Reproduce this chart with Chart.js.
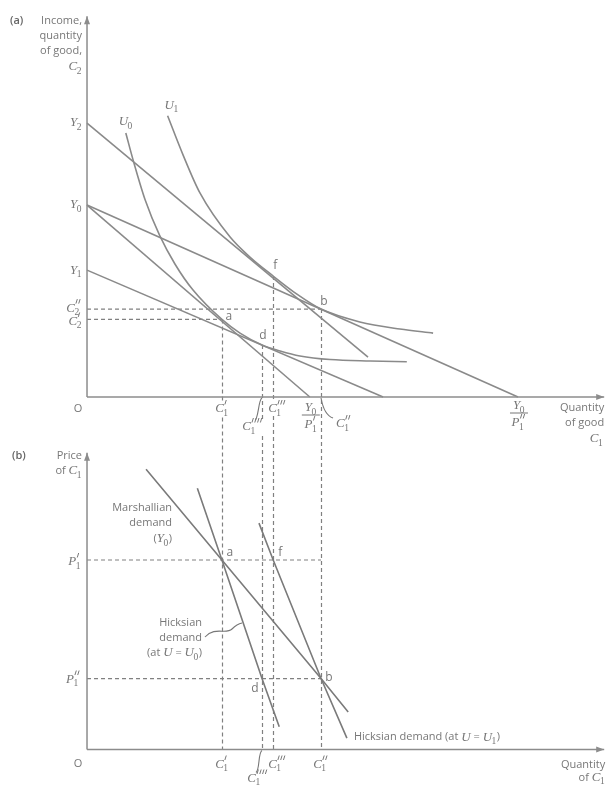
<!DOCTYPE html>
<html>
<head>
<meta charset="utf-8">
<script src="https://cdn.jsdelivr.net/npm/chart.js@4.4.0/dist/chart.umd.min.js"></script>
<style>
    html, body { margin: 0; padding: 0; background: #fff; }
    #wrap { position: relative; width: 606px; height: 785px; }
</style>
</head>
<body>
<div id="wrap"><canvas id="diagram"></canvas></div>
<script>
// ---- panel (a): quantities of C1 (x) and C2 / income (y) ----
const Y2 = 142.7, Y0 = 100, Y1 = 66.1;
const C2p = 40.4, C2pp = 45.8;                 // C2', C2''
const C1p = 31.3, C1pppp = 40.6, C1ppp = 43.2, C1pp = 54.3; // C1', C1'''', C1''', C1''
const Y0overP1p = 51.7, Y0overP1pp = 100;

const budgetY2X = [0, 65.2],        budgetY2Y = [Y2, 20.8];
const budgetY0pX = [0, Y0overP1p],  budgetY0pY = [Y0, 0];
const budgetY0ppX = [0, Y0overP1pp], budgetY0ppY = [Y0, 0];
const budgetY1X = [0, 68.7],        budgetY1Y = [Y1, 0];

const u0X = [9.0, 10.7, 13.5, 16.9, 20.4, 24.6, 31.3, 35.5, 40.6, 44.8, 49.4, 56.4, 65.7, 74.2];
const u0Y = [137.5, 123.4, 102.6, 83.9, 69.3, 55.7, 40.4, 33.3, 27.1, 24.0, 21.4, 19.5, 18.75, 18.4];
const u1X = [18.7, 22.3, 26.2, 33.2, 37.8, 43.2, 48.7, 54.3, 63.3, 72.6, 80.3];
const u1Y = [146.5, 126, 106.3, 83.3, 72.9, 63.0, 53.6, 45.8, 39.1, 35.4, 33.3];

// points a, d, f, b in panel (a)
const pointNames = ["a", "d", "f", "b"];
const pointAX = [C1p, C1pppp, C1ppp, C1pp];
const pointAY = [C2p, 27.1, 63.0, C2pp];

// ---- panel (b): price of C1 ----
const P1p = 2.67, P1pp = 1.0;
const marshX = [13.7, 31.3, 54.3, 60.6],  marshY = [3.95, P1p, P1pp, 0.53];
const hicks0X = [25.6, 31.3, 40.6, 44.6], hicks0Y = [3.68, P1p, P1pp, 0.32];
const hicks1X = [39.9, 43.2, 54.3, 60.3], hicks1Y = [3.19, P1p, P1pp, 0.16];
const pointBX = [C1p, C1pppp, C1ppp, C1pp];
const pointBY = [P1p, P1pp, P1p, P1pp];

const axisTopA = 198.4, axisTopB = 4.18, axisRight = 120;

const LINE = "#8a8a8a";
const LINE_B = "#7a7a7a";
const DASH = "#808080";
const TEXT = "#777";
const SANS = '"Open Sans", "Liberation Sans", sans-serif';
const SERIF = '"Liberation Serif", "DejaVu Serif", serif';
const FONT_TXT = `11px ${SANS}`;
const FONT_MATH = `italic 13px ${SERIF}`;
const FONT_SUB = `9.5px ${SERIF}`;

const pts = (xs, ys) => xs.map((x, i) => ({ x: x, y: ys[i] }));

function lineSet(xs, ys, axis, color, extra) {
    return Object.assign({
        data: pts(xs, ys),
        yAxisID: axis,
        showLine: true,
        borderColor: color,
        borderWidth: 1.6,
        pointRadius: 0
    }, extra || {});
}

// text helpers: plain strings are sans, objects {b, sub, p} are maths symbols
function partWidth(ctx, p) {
    if (typeof p === "string") { ctx.font = FONT_TXT; return ctx.measureText(p).width; }
    ctx.font = FONT_MATH;
    const wb = ctx.measureText(p.b).width;
    ctx.font = FONT_SUB;
    const ws = p.sub ? ctx.measureText(p.sub).width : 0;
    const wp = p.p ? p.p * 2.8 + 1.5 : 0;
    return wb + Math.max(ws, wp);
}

function drawPart(ctx, p, x, y) {
    if (typeof p === "string") { ctx.font = FONT_TXT; ctx.fillText(p, x, y); return; }
    ctx.font = FONT_MATH;
    ctx.fillText(p.b, x, y);
    const wb = ctx.measureText(p.b).width;
    ctx.font = FONT_SUB;
    if (p.sub) ctx.fillText(p.sub, x + wb - 0.5, y + 4);
    // primes as small slanted strokes
    ctx.strokeStyle = TEXT;
    ctx.lineWidth = 1;
    ctx.setLineDash([]);
    for (let i = 0; i < (p.p || 0); i++) {
        const px = x + wb + i * 2.8;
        ctx.beginPath();
        ctx.moveTo(px + 2.4, y - 9);
        ctx.lineTo(px + 1.0, y - 4.5);
        ctx.stroke();
    }
}

function rich(ctx, parts, x, y, align, clear) {
    if (!Array.isArray(parts)) parts = [parts];
    const ws = parts.map(p => partWidth(ctx, p));
    const total = ws.reduce((a, b) => a + b, 0);
    let cx = align === "right" ? x - total : align === "center" ? x - total / 2 : x;
    if (clear) {
        ctx.fillStyle = "#fff";
        ctx.fillRect(cx - 1, y - 7, total + 2, 14);
    }
    ctx.fillStyle = TEXT;
    ctx.textAlign = "left";
    ctx.textBaseline = "middle";
    parts.forEach((p, i) => { drawPart(ctx, p, cx, y); cx += ws[i]; });
}

function fraction(ctx, num, den, x, y) {
    rich(ctx, num, x, y, "center", true);
    rich(ctx, den, x, y + 17, "center", true);
    ctx.strokeStyle = TEXT;
    ctx.lineWidth = 1;
    ctx.setLineDash([]);
    ctx.beginPath();
    ctx.moveTo(x - 9, y + 7);
    ctx.lineTo(x + 9, y + 7);
    ctx.stroke();
}

function arrowAxis(ctx, x0, y0, x1, y1) {
    ctx.strokeStyle = "#8c8c8c";
    ctx.fillStyle = "#8c8c8c";
    ctx.lineWidth = 1.5;
    ctx.setLineDash([]);
    ctx.beginPath();
    ctx.moveTo(x0, y0);
    ctx.lineTo(x1, y1);
    ctx.stroke();
    const a = Math.atan2(y1 - y0, x1 - x0);
    ctx.beginPath();
    ctx.moveTo(x1, y1);
    ctx.lineTo(x1 - 8 * Math.cos(a) + 3 * Math.sin(a), y1 - 8 * Math.sin(a) - 3 * Math.cos(a));
    ctx.lineTo(x1 - 8 * Math.cos(a) - 3 * Math.sin(a), y1 - 8 * Math.sin(a) + 3 * Math.cos(a));
    ctx.closePath();
    ctx.fill();
}

function curl(ctx, pathFn) {
    ctx.strokeStyle = TEXT;
    ctx.lineWidth = 1.1;
    ctx.setLineDash([]);
    ctx.beginPath();
    pathFn();
    ctx.stroke();
}

const diagramPlugin = {
    id: "diagram",
    beforeDatasetsDraw(chart) {
        const ctx = chart.ctx, sx = chart.scales.x, sa = chart.scales.ya, sb = chart.scales.yb;
        ctx.save();
        ctx.strokeStyle = DASH;
        ctx.lineWidth = 1.2;
        ctx.setLineDash([4, 3]);
        pointAX.forEach((v, i) => {
            const px = Math.round(sx.getPixelForValue(v)) + 0.5;
            ctx.beginPath();
            ctx.moveTo(px, sa.getPixelForValue(pointAY[i]));
            ctx.lineTo(px, sb.getPixelForValue(0));
            ctx.stroke();
        });
        ctx.restore();
    },
    afterDatasetsDraw(chart) {
        const ctx = chart.ctx, sx = chart.scales.x, sa = chart.scales.ya, sb = chart.scales.yb;
        ctx.save();
        const ox = sx.getPixelForValue(0), oa = sa.getPixelForValue(0), ob = sb.getPixelForValue(0);
        const right = sx.getPixelForValue(axisRight);

        // axes
        arrowAxis(ctx, ox, oa, ox, sa.getPixelForValue(axisTopA));
        arrowAxis(ctx, ox, oa, right, oa);
        arrowAxis(ctx, ox, ob, ox, sb.getPixelForValue(axisTopB));
        arrowAxis(ctx, ox, ob, right, ob);

        // ---- panel (a) labels ----
        ctx.fillStyle = "#666";
        ctx.font = `600 11px ${SANS}`;
        ctx.textAlign = "left"; ctx.textBaseline = "middle";
        ctx.fillText("(a)", 10, 21);
        rich(ctx, "Income,", ox - 5, 21, "right");
        rich(ctx, "quantity", ox - 5, 36, "right");
        rich(ctx, "of good,", ox - 5, 51, "right");
        rich(ctx, { b: "C", sub: "2" }, ox - 5, 67, "right");

        rich(ctx, { b: "Y", sub: "2" }, ox - 5, sa.getPixelForValue(Y2), "right");
        rich(ctx, { b: "Y", sub: "0" }, ox - 5, sa.getPixelForValue(Y0), "right");
        rich(ctx, { b: "Y", sub: "1" }, ox - 5, sa.getPixelForValue(Y1), "right");
        rich(ctx, { b: "C", sub: "2", p: 2 }, ox - 5, sa.getPixelForValue(C2pp) - 1, "right");
        rich(ctx, { b: "C", sub: "2", p: 1 }, ox - 5, sa.getPixelForValue(C2p) + 2, "right");

        rich(ctx, { b: "U", sub: "0" }, sx.getPixelForValue(u0X[0]), sa.getPixelForValue(u0Y[0]) - 11, "center");
        rich(ctx, { b: "U", sub: "1" }, sx.getPixelForValue(u1X[0]) + 4, sa.getPixelForValue(u1Y[0]) - 10, "center");

        const offA = [[7, -3], [1, -9], [2, -10], [3, -8]];
        pointNames.forEach((n, i) => {
            ctx.fillStyle = TEXT; ctx.font = `12px ${SANS}`; ctx.textAlign = "center";
            ctx.fillText(n, sx.getPixelForValue(pointAX[i]) + offA[i][0], sa.getPixelForValue(pointAY[i]) + offA[i][1]);
        });

        ctx.fillStyle = TEXT; ctx.font = `11px ${SANS}`; ctx.textAlign = "center";
        ctx.fillText("O", ox - 9, oa + 12);
        rich(ctx, { b: "C", sub: "1", p: 1 }, sx.getPixelForValue(C1p), oa + 12, "center", true);
        rich(ctx, { b: "C", sub: "1", p: 3 }, sx.getPixelForValue(C1ppp) - 5, oa + 12, "left", true);
        const xd = sx.getPixelForValue(C1pppp);
        curl(ctx, () => { ctx.moveTo(xd, oa + 1); ctx.bezierCurveTo(xd - 4, oa + 3, xd - 3, oa + 22, xd - 8, oa + 25); });
        rich(ctx, { b: "C", sub: "1", p: 4 }, xd - 9, oa + 30, "center", true);
        fraction(ctx, { b: "Y", sub: "0" }, { b: "P", sub: "1", p: 1 }, sx.getPixelForValue(Y0overP1p) + 1, oa + 11);
        const xb = sx.getPixelForValue(C1pp);
        curl(ctx, () => { ctx.moveTo(xb, oa + 1); ctx.quadraticCurveTo(xb + 3, oa + 18, xb + 12, oa + 21); });
        rich(ctx, { b: "C", sub: "1", p: 2 }, xb + 15, oa + 27, "left", true);
        fraction(ctx, { b: "Y", sub: "0" }, { b: "P", sub: "1", p: 2 }, sx.getPixelForValue(Y0overP1pp) + 1, oa + 9);
        rich(ctx, "Quantity", right, oa + 11, "right");
        rich(ctx, "of good", right, oa + 26, "right");
        rich(ctx, { b: "C", sub: "1" }, right - 1, oa + 42, "right");

        // ---- panel (b) labels ----
        ctx.fillStyle = "#666";
        ctx.font = `600 11px ${SANS}`;
        ctx.textAlign = "left";
        ctx.fillText("(b)", 12, 456);
        rich(ctx, "Price", ox - 5, 456, "right");
        rich(ctx, ["of ", { b: "C", sub: "1" }], ox - 5, 471, "right");
        rich(ctx, { b: "P", sub: "1", p: 1 }, ox - 6, sb.getPixelForValue(P1p) + 2, "right");
        rich(ctx, { b: "P", sub: "1", p: 2 }, ox - 6, sb.getPixelForValue(P1pp) + 1, "right");
        ctx.fillStyle = TEXT; ctx.font = `11px ${SANS}`; ctx.textAlign = "center";
        ctx.fillText("O", ox - 9, ob + 14);

        rich(ctx, "Marshallian", 172, 508, "right");
        rich(ctx, "demand", 172, 523, "right");
        rich(ctx, ["(", { b: "Y", sub: "0" }, ")"], 172, 539, "right");

        rich(ctx, "Hicksian", 202, 623, "right");
        rich(ctx, "demand", 202, 638, "right");
        rich(ctx, ["(at ", { b: "U" }, " = ", { b: "U", sub: "0" }, ")"], 202, 653, "right");
        curl(ctx, () => { ctx.moveTo(205, 637); ctx.bezierCurveTo(215, 626, 226, 635, 232, 629); ctx.quadraticCurveTo(237, 624, 242, 623); });

        const e1x = sx.getPixelForValue(hicks1X[hicks1X.length - 1]), e1y = sb.getPixelForValue(hicks1Y[hicks1Y.length - 1]);
        rich(ctx, ["Hicksian demand (at ", { b: "U" }, " = ", { b: "U", sub: "1" }, ")"], e1x + 7, e1y - 1, "left");

        const offB = [[8, -7], [-7, 10], [7, -7], [8, -1]];
        pointNames.forEach((n, i) => {
            ctx.fillStyle = TEXT; ctx.font = `12px ${SANS}`; ctx.textAlign = "center"; ctx.textBaseline = "middle";
            ctx.fillText(n, sx.getPixelForValue(pointBX[i]) + offB[i][0], sb.getPixelForValue(pointBY[i]) + offB[i][1]);
        });

        rich(ctx, { b: "C", sub: "1", p: 1 }, sx.getPixelForValue(C1p), ob + 15, "center");
        rich(ctx, { b: "C", sub: "1", p: 3 }, sx.getPixelForValue(C1ppp) - 5, ob + 15, "left");
        rich(ctx, { b: "C", sub: "1", p: 2 }, sx.getPixelForValue(C1pp), ob + 15, "center");
        curl(ctx, () => { ctx.moveTo(xd, ob + 1); ctx.bezierCurveTo(xd - 4, ob + 3, xd - 2, ob + 20, xd - 6, ob + 23); });
        rich(ctx, { b: "C", sub: "1", p: 4 }, xd - 4, ob + 29, "center");
        rich(ctx, "Quantity", right + 1, ob + 15, "right");
        rich(ctx, ["of ", { b: "C", sub: "1" }], right + 1, ob + 28, "right");

        ctx.restore();
    }
};

new Chart(document.getElementById("diagram"), {
    type: "scatter",
    data: {
        datasets: [
            lineSet(budgetY2X, budgetY2Y, "ya", LINE),
            lineSet(budgetY0pX, budgetY0pY, "ya", LINE),
            lineSet(budgetY0ppX, budgetY0ppY, "ya", LINE),
            lineSet(budgetY1X, budgetY1Y, "ya", LINE),
            lineSet(u0X, u0Y, "ya", LINE, { cubicInterpolationMode: "monotone" }),
            lineSet(u1X, u1Y, "ya", LINE, { cubicInterpolationMode: "monotone" }),
            lineSet([0, C1pp], [C2pp, C2pp], "ya", DASH, { borderWidth: 1.2, borderDash: [4, 3] }),
            lineSet([0, C1p], [C2p, C2p], "ya", DASH, { borderWidth: 1.2, borderDash: [4, 3] }),
            lineSet(marshX, marshY, "yb", LINE_B),
            lineSet(hicks0X, hicks0Y, "yb", LINE_B),
            lineSet(hicks1X, hicks1Y, "yb", LINE_B),
            lineSet([0, C1pp], [P1p, P1p], "yb", DASH, { borderWidth: 1.2, borderDash: [4, 3] }),
            lineSet([0, C1pp], [P1pp, P1pp], "yb", DASH, { borderWidth: 1.2, borderDash: [4, 3] })
        ]
    },
    options: {
        responsive: true,
        maintainAspectRatio: false,
        animation: false,
        layout: { padding: 0, autoPadding: false },
        plugins: { legend: { display: false }, tooltip: { enabled: false } },
        scales: {
            x: { type: "linear", display: false, min: -20.19, max: 120.42 },
            ya: { type: "linear", display: false, min: -202.1, max: 206.8 },
            yb: { type: "linear", display: false, min: -0.5, max: 10.56 }
        }
    },
    plugins: [diagramPlugin]
});
</script>
</body>
</html>
